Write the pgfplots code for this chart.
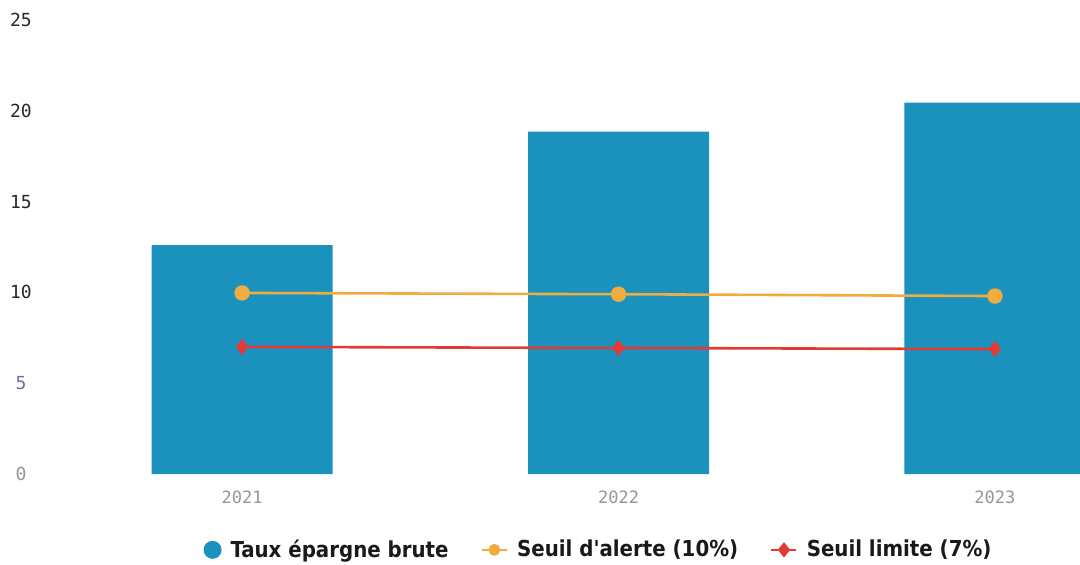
\documentclass[border=0pt]{standalone}
\usepackage{fontspec}
\setmainfont{DejaVu Sans}
\newfontfamily\monofont{DejaVu Sans Mono}
\newfontfamily\legfont{DejaVu Sans Condensed}
\usepackage{pgfplots}
\pgfplotsset{compat=1.18}

\definecolor{barc}{RGB}{26,146,189}
\definecolor{alertc}{RGB}{240,172,62}
\definecolor{limitc}{RGB}{228,57,52}
\definecolor{ytxt}{RGB}{40,40,40}
\definecolor{xtxt}{RGB}{150,150,150}
\definecolor{fivec}{RGB}{110,110,160}

\begin{document}
\begin{tikzpicture}
\useasboundingbox (0,0) rectangle (540pt,282pt);
\begin{axis}[
  at={(20pt,45pt)}, anchor=south west,
  width=520pt, height=227pt, scale only axis,
  xmin=-0.537, xmax=2.226,
  ymin=0, ymax=25,
  clip=false,
  axis line style={draw=none},
  tick style={draw=none},
  xtick={0,1,2},
  xticklabels={2021,2022,2023},
  ytick={0,5,10,15,20,25},
  yticklabels={\textcolor{xtxt}{0},\textcolor{fivec}{5},10,15,20,25},
  yticklabel style={anchor=center, xshift=-9.5pt, font=\monofont\fontsize{9}{10}\selectfont, text=ytxt},
  xticklabel style={font=\monofont\fontsize{8.5}{10}\selectfont, text=xtxt, yshift=-5pt},
  legend columns=3,
  legend style={at={(0.538,-0.167)}, anchor=center, draw=none, fill=none,
    font=\legfont\bfseries\fontsize{11}{13}\selectfont, text=black!90,
    /tikz/every odd column/.append style={column sep=2.5pt},
    /tikz/every even column/.append style={column sep=14pt}},
]
\addplot[ybar, bar width=90.5pt, bar shift=0pt, fill=barc, draw=none,
  legend image code/.code={\fill[barc] (3pt,0pt) circle (4.5pt);}]
  coordinates {(0,12.6) (1,18.85) (2,20.45)};
\addlegendentry{Taux épargne brute}
\addplot[alertc, line width=1.3pt, mark=*, mark size=3.2pt, mark options={fill=alertc, draw=alertc},
  legend image code/.code={\draw[alertc, line width=1.3pt] (0pt,0pt) -- (12.5pt,0pt); \fill[alertc] (6.25pt,0pt) circle (2.3pt);}]
  coordinates {(0,9.97) (1,9.9) (2,9.8)};
\addlegendentry{Seuil d'alerte (10\%)}
\addplot[limitc, line width=1.3pt, mark=diamond*, mark size=3pt, mark options={fill=limitc, draw=limitc},
  legend image code/.code={\draw[limitc, line width=1.3pt] (0pt,0pt) -- (12.5pt,0pt); \fill[limitc] (6.25pt,2.8pt) -- (8.5pt,0pt) -- (6.25pt,-2.8pt) -- (4pt,0pt) -- cycle;}]
  coordinates {(0,7.0) (1,6.94) (2,6.88)};
\addlegendentry{Seuil limite (7\%)}
\end{axis}
\end{tikzpicture}
\end{document}
